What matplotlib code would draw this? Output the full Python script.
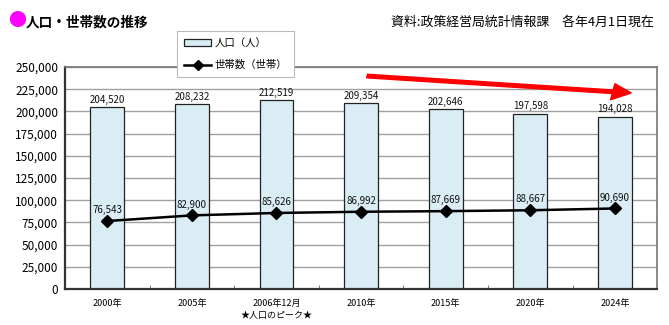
import matplotlib
matplotlib.use("Agg")
import matplotlib.pyplot as plt
from matplotlib.patches import FancyArrow
from matplotlib.ticker import FuncFormatter, MultipleLocator, FixedLocator
import numpy as np

plt.rcParams['font.family'] = ['Noto Sans CJK JP', 'DejaVu Sans']

categories = ['2000年', '2005年', '2006年12月\n★人口のピーク★', '2010年', '2015年', '2020年', '2024年']
population = [204520, 208232, 212519, 209354, 202646, 197598, 194028]
households = [76543, 82900, 85626, 86992, 87669, 88667, 90690]

fig = plt.figure(figsize=(6.69, 3.25), dpi=100)
ax = fig.add_axes([0.0972, 0.1108, 0.885, 0.683])

x = np.arange(len(categories))
bars = ax.bar(x, population, width=0.4, color='#daedf4', edgecolor='#222222',
              linewidth=0.9, zorder=2, label='人口（人）')
line, = ax.plot(x, households, color='black', linewidth=1.8, marker='D',
                markersize=6.5, zorder=3, label='世帯数（世帯）')

for xi, v in zip(x, population):
    ax.text(xi, v + 2500, f'{v:,}', ha='center', va='bottom', fontsize=7, color='#111111')
for xi, v in zip(x, households):
    ax.text(xi, v + 6500, f'{v:,}', ha='center', va='bottom', fontsize=7, color='#111111')

ax.set_xlim(-0.5, len(categories) - 0.5)
ax.set_ylim(0, 250000)
ax.yaxis.set_major_locator(MultipleLocator(25000))
ax.yaxis.set_major_formatter(FuncFormatter(lambda v, p: f'{int(v):,}'))
ax.grid(axis='y', color='#a0a0a0', linewidth=1.0, zorder=0)
ax.set_axisbelow(True)

ax.set_xticks(x)
ax.set_xticklabels(categories, fontsize=6.5, linespacing=1.5)
ax.xaxis.set_minor_locator(FixedLocator(np.arange(0.5, len(categories) - 1, 1.0)))
ax.tick_params(axis='x', which='major', length=0, pad=7)
ax.tick_params(axis='x', which='minor', length=3, direction='in', color='#666666')
ax.tick_params(axis='y', length=0, labelsize=8.5, pad=5)

for side in ['left', 'bottom']:
    ax.spines[side].set_color('#333333')
    ax.spines[side].set_linewidth(1.6)
for side in ['top', 'right']:
    ax.spines[side].set_color('#777777')
    ax.spines[side].set_linewidth(1.2)

leg = fig.legend(handles=[bars, line], loc='upper left', bbox_to_anchor=(0.2646, 0.9046),
                 borderaxespad=0, fontsize=7.5, frameon=True, fancybox=False,
                 edgecolor='#bbbbbb', framealpha=1, handlelength=2.6, handleheight=0.6,
                 labelspacing=1.1, borderpad=0.7, handletextpad=0.3, markerscale=0.75)
leg.get_frame().set_linewidth(0.8)

# trend arrow
fig.patches.append(FancyArrow(0.5486, 0.766, 0.395, -0.052, width=0.011,
                              head_width=0.05, head_length=0.028,
                              length_includes_head=True, color='#ff0000',
                              transform=fig.transFigure, figure=fig))

fig.text(0.012, 0.934, '●', color='#ff00ff', fontsize=13, va='center', ha='left')
fig.text(0.038, 0.932, '人口・世帯数の推移', fontsize=9.8, fontweight='bold', va='center', ha='left')
fig.text(0.977, 0.932, '資料:政策経営局統計情報課　各年4月1日現在', fontsize=9.3, va='center', ha='right')

fig.savefig('out.png', dpi=100)
